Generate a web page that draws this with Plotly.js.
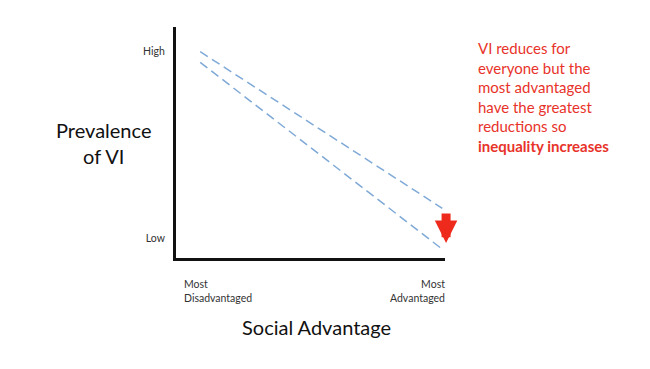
<!DOCTYPE html>
<html>
<head>
<meta charset="utf-8">
<script src="https://cdn.plot.ly/plotly-3.0.1.min.js"></script>
<style>html,body{margin:0;padding:0;background:#fff;}#chart{width:650px;height:369px;}</style>
</head>
<body>
<div id="chart"></div>
<script>
// Data
const xPositions = [0.09, 0.99];
const prevalenceBefore = [0.893, 0.215];
const prevalenceAfter = [0.847, 0.038];
const yTickVals = [0.893, 0.087];
const yTickText = ['High', 'Low'];
const xTickText = ['Most<br>Disadvantaged', 'Most<br>Advantaged'];
const noteLines = ['VI reduces for', 'everyone but the', 'most advantaged', 'have the greatest', 'reductions so', '<b>inequality increases</b>'];

const FONT = 'Lato, "Open Sans", sans-serif';
const lineStyle = {color: '#7fa9d6', width: 1.5, dash: '9px,5px'};

const traces = [
  {x: xPositions, y: prevalenceBefore, mode: 'lines', line: lineStyle, hoverinfo: 'skip', showlegend: false},
  {x: xPositions, y: prevalenceAfter, mode: 'lines', line: lineStyle, hoverinfo: 'skip', showlegend: false}
];

const annotations = [
  {xref: 'paper', yref: 'y', axref: 'pixel', ayref: 'pixel',
   x: 1.004, y: prevalenceAfter[1] + 0.027,
   ax: 0, ay: -31,
   text: '', showarrow: true, arrowhead: 2, arrowsize: 0.5, arrowwidth: 9, arrowcolor: '#ee2a1c', standoff: 0},
  {xref: 'paper', yref: 'paper', x: 0, y: 0, xshift: 6, yshift: -18, xanchor: 'left', yanchor: 'top', align: 'left',
   text: xTickText[0], showarrow: false, font: {family: FONT, size: 10.5, color: '#333'}},
  {xref: 'paper', yref: 'paper', x: 1, y: 0, xshift: 2, yshift: -18, xanchor: 'right', yanchor: 'top', align: 'right',
   text: xTickText[1], showarrow: false, font: {family: FONT, size: 10.5, color: '#333'}},
  {xref: 'paper', yref: 'paper', x: 0.5, y: 0, xshift: 6, yshift: -55, xanchor: 'center', yanchor: 'top',
   text: 'Social Advantage', showarrow: false, font: {family: FONT, size: 20, color: '#111'}},
  {xref: 'paper', yref: 'paper', x: 0, y: 0.5, xshift: -73, yshift: 0, xanchor: 'center', yanchor: 'middle', align: 'center',
   text: 'Prevalence<br>of VI', showarrow: false, font: {family: FONT, size: 20, color: '#111'}},
  {xref: 'paper', yref: 'paper', x: 1, y: 1, xshift: 31, yshift: -10, xanchor: 'left', yanchor: 'top', align: 'left',
   text: noteLines.join('<br>'), showarrow: false, font: {family: FONT, size: 15, color: '#e8332a'}}
];

const layout = {
  width: 650, height: 369,
  margin: {l: 176, r: 205, t: 27, b: 111, pad: 0},
  paper_bgcolor: '#fff', plot_bgcolor: '#fff',
  showlegend: false,
  xaxis: {range: [0, 1], showgrid: false, zeroline: false, showticklabels: false, ticks: '',
          showline: true, linecolor: '#111', linewidth: 3, fixedrange: true},
  yaxis: {range: [0, 1], showgrid: false, zeroline: false, ticks: '',
          tickvals: yTickVals, ticktext: yTickText, tickfont: {family: FONT, size: 10.5, color: '#333'},
          ticklabelstandoff: 6,
          showline: true, linecolor: '#111', linewidth: 3, fixedrange: true},
  annotations: annotations
};

Plotly.newPlot('chart', traces, layout, {displayModeBar: false, staticPlot: true});
</script>
</body>
</html>
